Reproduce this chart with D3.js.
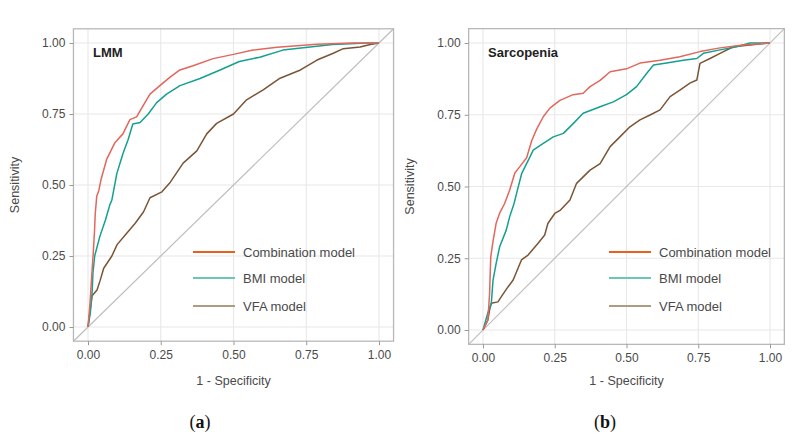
<!DOCTYPE html>
<html><head><meta charset="utf-8">
<script src="https://cdn.jsdelivr.net/npm/d3@7"></script>
<style>body{margin:0;background:#fff}svg{display:block}</style>
</head><body>
<svg id="chart" width="799" height="442"></svg>
<script>
const ticks = [0, 0.25, 0.5, 0.75, 1];
const tickLabels = ["0.00", "0.25", "0.50", "0.75", "1.00"];
const seriesNames = ["Combination model", "BMI model", "VFA model"];
const panelTitles = ["LMM", "Sarcopenia"];
const captions = ["a", "b"];

// ROC points [1-specificity, sensitivity]
const lmmCombination = [[0,0],[0.007,0.085],[0.014,0.2],[0.018,0.26],[0.022,0.33],[0.025,0.40],[0.03,0.46],[0.037,0.48],[0.045,0.52],[0.064,0.59],[0.093,0.65],[0.12,0.68],[0.144,0.73],[0.167,0.74],[0.19,0.78],[0.213,0.82],[0.247,0.85],[0.282,0.88],[0.316,0.905],[0.361,0.92],[0.43,0.945],[0.5,0.96],[0.567,0.975],[0.65,0.985],[0.787,0.996],[0.91,1],[1,1]];
const lmmBMI = [[0,0],[0.008,0.05],[0.014,0.12],[0.017,0.19],[0.023,0.25],[0.041,0.32],[0.06,0.377],[0.075,0.43],[0.082,0.447],[0.099,0.54],[0.12,0.61],[0.138,0.66],[0.154,0.715],[0.179,0.72],[0.207,0.75],[0.236,0.79],[0.27,0.82],[0.316,0.85],[0.385,0.875],[0.454,0.905],[0.52,0.935],[0.59,0.95],[0.67,0.975],[0.763,0.986],[0.84,0.995],[0.96,1],[1,1]];
const lmmVFA = [[0,0],[0.014,0.11],[0.031,0.13],[0.042,0.165],[0.054,0.207],[0.082,0.25],[0.1,0.29],[0.128,0.324],[0.163,0.366],[0.191,0.406],[0.213,0.455],[0.254,0.476],[0.283,0.51],[0.327,0.577],[0.374,0.62],[0.408,0.68],[0.442,0.717],[0.5,0.75],[0.545,0.8],[0.602,0.835],[0.66,0.876],[0.73,0.905],[0.787,0.94],[0.843,0.964],[0.877,0.98],[0.935,0.986],[0.97,0.995],[1,1]];
const sarcCombination = [[0,0],[0.017,0.035],[0.023,0.128],[0.027,0.255],[0.035,0.31],[0.046,0.373],[0.058,0.407],[0.075,0.44],[0.093,0.488],[0.111,0.547],[0.129,0.57],[0.152,0.6],[0.17,0.66],[0.187,0.7],[0.21,0.743],[0.233,0.773],[0.268,0.8],[0.314,0.82],[0.349,0.825],[0.373,0.848],[0.408,0.87],[0.443,0.9],[0.5,0.91],[0.547,0.93],[0.617,0.94],[0.686,0.952],[0.756,0.97],[0.826,0.983],[0.906,0.993],[1,1]];
const sarcBMI = [[0,0],[0.017,0.06],[0.029,0.093],[0.035,0.174],[0.046,0.233],[0.058,0.29],[0.081,0.348],[0.093,0.395],[0.108,0.44],[0.117,0.476],[0.135,0.546],[0.158,0.592],[0.175,0.627],[0.21,0.65],[0.245,0.673],[0.28,0.685],[0.315,0.72],[0.349,0.755],[0.408,0.778],[0.454,0.795],[0.5,0.82],[0.535,0.848],[0.57,0.894],[0.594,0.923],[0.64,0.93],[0.698,0.94],[0.745,0.946],[0.768,0.964],[0.826,0.976],[0.884,0.987],[0.93,1],[1,1]];
const sarcVFA = [[0,0],[0.017,0.035],[0.023,0.07],[0.029,0.093],[0.052,0.098],[0.064,0.116],[0.087,0.15],[0.105,0.174],[0.134,0.244],[0.157,0.261],[0.192,0.302],[0.215,0.331],[0.226,0.371],[0.25,0.406],[0.27,0.418],[0.303,0.453],[0.326,0.511],[0.373,0.557],[0.408,0.58],[0.443,0.639],[0.477,0.673],[0.512,0.708],[0.547,0.732],[0.582,0.749],[0.617,0.767],[0.652,0.813],[0.686,0.836],[0.721,0.86],[0.745,0.871],[0.756,0.929],[0.791,0.946],[0.826,0.964],[0.872,0.987],[0.93,0.993],[1,1]];

const curveColors = ["#e2675c", "#14a090", "#7a5535"];
const legendColors = ["#e8601c", "#6cc5b5", "#b09a80"];

const panels = [
  {title: panelTitles[0], cap: captions[0], data: [lmmCombination, lmmBMI, lmmVFA],
   x0: 88, x1: 379, y0: 327, y1: 43, ylab: 15, capX: 200, legX: 193},
  {title: panelTitles[1], cap: captions[1], data: [sarcCombination, sarcBMI, sarcVFA],
   x0: 483, x1: 770, y0: 330, y1: 43, ylab: 410, capX: 605, legX: 609}
];

const svg = d3.select("#chart");
const font = "Liberation Sans, Arial, sans-serif";

panels.forEach(p => {
  const x = d3.scaleLinear().domain([0, 1]).range([p.x0, p.x1]);
  const y = d3.scaleLinear().domain([0, 1]).range([p.y0, p.y1]);
  const L = x(-0.05), R = x(1.05), T = y(1.05), B = y(-0.05);
  const g = svg.append("g");
  const clipId = "clip" + p.cap;
  svg.append("clipPath").attr("id", clipId).append("rect")
    .attr("x", L).attr("y", T).attr("width", R - L).attr("height", B - T);

  // grid
  g.selectAll(".gx").data(ticks).join("line")
    .attr("x1", d => x(d)).attr("x2", d => x(d)).attr("y1", T).attr("y2", B)
    .attr("stroke", "#e8e8e8").attr("stroke-width", 1.1);
  g.selectAll(".gy").data(ticks).join("line")
    .attr("y1", d => y(d)).attr("y2", d => y(d)).attr("x1", L).attr("x2", R)
    .attr("stroke", "#e8e8e8").attr("stroke-width", 1.1);

  // diagonal
  g.append("line").attr("clip-path", `url(#${clipId})`)
    .attr("x1", x(-0.05)).attr("y1", y(-0.05)).attr("x2", x(1.05)).attr("y2", y(1.05))
    .attr("stroke", "#bdbdbd").attr("stroke-width", 1.2);

  // curves (draw VFA first, then BMI, then Combination)
  const line = d3.line().x(d => x(d[0])).y(d => y(d[1]));
  [2, 1, 0].forEach(i => {
    g.append("path").datum(p.data[i]).attr("d", line)
      .attr("fill", "none").attr("stroke", curveColors[i]).attr("stroke-width", 1.5)
      .attr("stroke-linejoin", "round");
  });

  // border
  g.append("rect").attr("x", L).attr("y", T).attr("width", R - L).attr("height", B - T)
    .attr("fill", "none").attr("stroke", "#b8b8b8").attr("stroke-width", 1.3);

  // axes
  const xa = g.append("g").attr("transform", `translate(0,${B})`)
    .call(d3.axisBottom(x).tickValues(ticks).tickFormat((d, i) => tickLabels[i]).tickSize(4).tickPadding(5));
  const ya = g.append("g").attr("transform", `translate(${L},0)`)
    .call(d3.axisLeft(y).tickValues(ticks).tickFormat((d, i) => tickLabels[i]).tickSize(4).tickPadding(4));
  [xa, ya].forEach(a => {
    a.select(".domain").remove();
    a.selectAll(".tick line").attr("stroke", "#999");
    a.selectAll(".tick text").attr("fill", "#4a4a4a").style("font-family", font).style("font-size", "12px");
  });

  // axis titles
  g.append("text").attr("x", (L + R) / 2).attr("y", 385).attr("text-anchor", "middle")
    .attr("fill", "#4a4a4a").style("font-family", font).style("font-size", "12.5px").text("1 - Specificity");
  g.append("text").attr("transform", `translate(${p.ylab + 4},${(T + B) / 2}) rotate(-90)`)
    .attr("text-anchor", "middle").attr("fill", "#4a4a4a").style("font-family", font)
    .style("font-size", "12.5px").text("Sensitivity");

  // panel title
  g.append("text").attr("x", x(0) + 5).attr("y", y(0.95)).attr("fill", "#222")
    .style("font-family", font).style("font-size", "13px").style("font-weight", "bold").text(p.title);

  // legend
  const legY = [252, 278, 306];
  seriesNames.forEach((n, i) => {
    g.append("line").attr("x1", p.legX).attr("x2", p.legX + 42).attr("y1", legY[i]).attr("y2", legY[i])
      .attr("stroke", legendColors[i]).attr("stroke-width", 2.2);
    g.append("text").attr("x", p.legX + 50).attr("y", legY[i] + 4.5).attr("fill", "#4a4a4a")
      .style("font-family", font).style("font-size", "13px").text(n);
  });

  // caption
  const cap = g.append("text").attr("x", p.capX).attr("y", 428).attr("text-anchor", "middle")
    .attr("fill", "#111").style("font-family", "Liberation Serif, Times New Roman, serif").style("font-size", "18px");
  cap.append("tspan").text("(");
  cap.append("tspan").style("font-weight", "bold").text(p.cap);
  cap.append("tspan").text(")");
});
</script>
</body></html>
